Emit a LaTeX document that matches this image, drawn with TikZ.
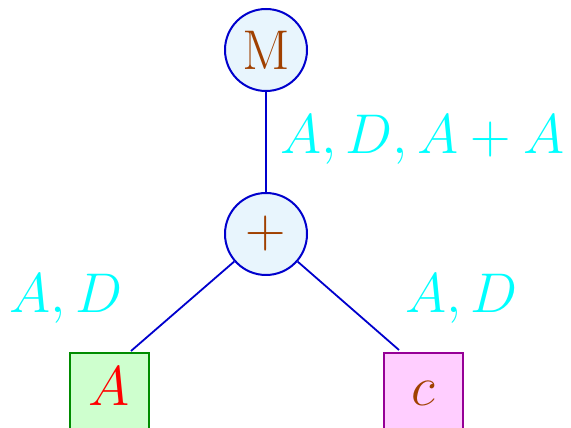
\RequirePackage{fix-cm}
\documentclass[tikz,border=0pt]{standalone}
\begin{document}
\begin{tikzpicture}[x=1pt,y=1pt,
  big/.style={font=\fontsize{56}{60}\selectfont},
  opnode/.style={circle,draw=edgeblue,fill=circfill,line width=2pt,minimum size=82pt,inner sep=0pt,text=termbrown,big},
  leafA/.style={rectangle,draw=boxgreen,fill=greenfill,line width=2pt,minimum width=79pt,minimum height=120pt,inner sep=0pt,anchor=north},
  leafC/.style={rectangle,draw=boxpurple,fill=pinkfill,line width=2pt,minimum width=79pt,minimum height=120pt,inner sep=0pt,anchor=north},
  txt/.style={inner sep=0pt,anchor=base,big},
  lab/.style={inner sep=0pt,anchor=base,text=labcyan,big},
  edge/.style={draw=edgeblue,line width=1.8pt}]
\definecolor{edgeblue}{RGB}{0,0,205}
\definecolor{circfill}{RGB}{232,245,253}
\definecolor{termbrown}{RGB}{160,64,0}
\definecolor{boxgreen}{RGB}{0,140,0}
\definecolor{greenfill}{RGB}{206,255,206}
\definecolor{boxpurple}{RGB}{150,0,150}
\definecolor{pinkfill}{RGB}{255,206,255}
\definecolor{labcyan}{RGB}{0,255,255}
\useasboundingbox (0,0) rectangle (571,428);
\clip (0,0) rectangle (571,428);
% nodes
\node[opnode] (m) at (266,378) {M};
\node[opnode] (plus) at (266,194) {$+$};
\node[leafA] (boxA) at (109.5,76) {};
\node[leafC] (boxC) at (423.5,76) {};
\node[txt,text=red] (tA) at (109.5,22) {$A$};
\node[txt,text=termbrown] (tC) at (423.5,22) {$c$};
% connector ends on box tops
\coordinate (eA) at (131,77);
\coordinate (eC) at (399,78);
% connectors
\draw[edge] (m) -- (plus);
\draw[edge] (plus) -- (eA);
\draw[edge] (plus) -- (eC);
% labels
\node[lab] (l1) at (422.5,274) {$A,D,A+A$};
\node[lab] (l2) at (66,115) {$A,D$};
\node[lab] (l3) at (461.5,115) {$A,D$};
\end{tikzpicture}
\end{document}
